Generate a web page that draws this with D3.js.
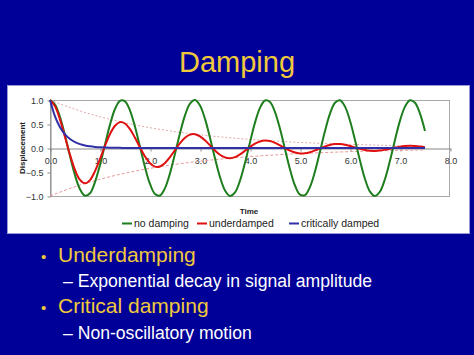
<!DOCTYPE html>
<html>
<head>
<meta charset="utf-8">
<script src="https://cdn.jsdelivr.net/npm/d3@7"></script>
<style>
html,body{margin:0;padding:0;background:#000099;}
svg{display:block;font-family:"Liberation Sans",Arial,sans-serif;}
</style>
</head>
<body>
<svg id="c" width="474" height="355"></svg>
<script>
// time axis samples (s)
const times = d3.range(0, 76).map(i => +(i / 10).toFixed(1));
const noDamping = [1.000,0.907,0.645,0.262,-0.168,-0.567,-0.860,-0.995,-0.942,-0.709,-0.353,0.072,0.487,0.812,0.983,0.971,0.780,0.443,0.024,-0.400,-0.749,-0.958,-0.989,-0.836,-0.528,-0.120,0.309,0.681,0.926,0.999,0.885,0.607,0.215,-0.216,-0.607,-0.885,-0.999,-0.926,-0.681,-0.308,0.121,0.529,0.837,0.990,0.958,0.748,0.400,-0.024,-0.444,-0.781,-0.971,-0.981,-0.809,-0.487,-0.072,0.354,0.716,0.943,0.995,0.862,0.569,0.168,-0.263,-0.646,-0.908,-1.000,-0.907,-0.645,-0.262,0.169,0.570,0.862,0.995,0.943,0.715,0.353];
const underdamped = [1.000,0.869,0.592,0.230,-0.141,-0.458,-0.665,-0.736,-0.668,-0.481,-0.230,0.045,0.291,0.464,0.539,0.510,0.392,0.214,0.011,-0.177,-0.317,-0.388,-0.384,-0.311,-0.188,-0.041,0.101,0.213,0.278,0.287,0.243,0.160,0.054,-0.052,-0.141,-0.196,-0.213,-0.189,-0.133,-0.058,0.022,0.091,0.137,0.155,0.145,0.108,0.055,-0.003,-0.056,-0.095,-0.113,-0.110,-0.087,-0.050,-0.007,0.033,0.064,0.081,0.083,0.068,0.043,0.012,-0.018,-0.043,-0.058,-0.061,-0.054,-0.036,-0.014,0.009,0.028,0.041,0.045,0.041,0.029,0.014];
const criticallyDamped = [1.000,0.657,0.432,0.284,0.186,0.122,0.080,0.053,0.035,0.023,0.015,0.010,0.006,0.004,0.003,0.002,0.001,0,0,0,0,0,0,0,0,0,0,0,0,0,0,0,0,0,0,0,0,0,0,0,0,0,0,0,0,0,0,0,0,0,0,0,0,0,0,0,0,0,0,0,0,0,0,0,0,0,0,0,0,0,0,0,0,0,0,0];
// decay envelope
const envTimes = [0,0.5,1,1.5,2,2.5,3,3.5,4,4.5,5,5.5,6,6.5,7,7.5];
const envUpper = [1.0,0.807,0.651,0.525,0.423,0.341,0.275,0.222,0.179,0.144,0.116,0.094,0.076,0.061,0.049,0.040];
const envLower = [-1.0,-0.807,-0.651,-0.525,-0.423,-0.341,-0.275,-0.222,-0.179,-0.144,-0.116,-0.094,-0.076,-0.061,-0.049,-0.040];
const xTicks = [0,1,2,3,4,5,6,7,8];
const yTicks = [-1,-0.5,0,0.5,1];
const seriesNames = ["no damping","underdamped","critically damped"];
const seriesColors = ["#1e7e1e","#e01010","#3030a8"];
const title = "Damping";
const bullets = [
  {level:1, text:"Underdamping"},
  {level:2, text:"– Exponential decay in signal amplitude"},
  {level:1, text:"Critical damping"},
  {level:2, text:"– Non-oscillatory motion"}
];

const svg = d3.select("#c");
svg.append("rect").attr("width",474).attr("height",355).attr("fill","#000099");

svg.append("text").attr("x",237).attr("y",72).attr("text-anchor","middle")
  .attr("font-size",29).attr("fill","#f0c83c").text(title);

// chart panel
svg.append("rect").attr("x",7.5).attr("y",85.5).attr("width",462).attr("height",148)
  .attr("fill","#ffffff").attr("stroke","#9a9ad8").attr("stroke-width",1);

const x = d3.scaleLinear().domain([0,8]).range([50,450]);
const y = d3.scaleLinear().domain([-1,1]).range([196,100]);

// plot border
svg.append("rect").attr("x",50.5).attr("y",100.5).attr("width",399).attr("height",96)
  .attr("fill","none").attr("stroke","#a8a8a8").attr("stroke-width",1);

const yAxis = svg.append("g").attr("transform","translate(50.5,0.5)")
  .call(d3.axisLeft(y).tickValues(yTicks).tickFormat(d3.format(".1f")).tickSize(3).tickPadding(4).tickSizeOuter(0));
yAxis.selectAll("text").attr("font-size",9).attr("fill","#333").attr("font-family","Liberation Sans, Arial, sans-serif");
yAxis.selectAll("line,path").attr("stroke","#888");

const xAxis = svg.append("g").attr("transform",`translate(0.5,${y(0)+0.5})`)
  .call(d3.axisBottom(x).tickValues(xTicks).tickFormat(d3.format(".1f")).tickSize(3).tickPadding(6).tickSizeOuter(0));
xAxis.selectAll("text").attr("font-size",9).attr("fill","#333").attr("font-family","Liberation Sans, Arial, sans-serif");
xAxis.selectAll("line,path").attr("stroke","#888");

svg.append("text").attr("transform","translate(25,148) rotate(-90)").attr("text-anchor","middle")
  .attr("font-size",8).attr("font-weight","bold").attr("fill","#222").text("Displacement");
svg.append("text").attr("x",249).attr("y",214).attr("text-anchor","middle")
  .attr("font-size",8).attr("font-weight","bold").attr("fill","#222").text("Time");

// envelopes
const envLine = d3.line().x((d,i)=>x(envTimes[i])).y(d=>y(d)).curve(d3.curveMonotoneX);
svg.append("path").datum(envUpper).attr("d",envLine).attr("fill","none")
  .attr("stroke","#e0a8a8").attr("stroke-width",1).attr("stroke-dasharray","2,2");
svg.append("path").datum(envLower).attr("d",envLine).attr("fill","none")
  .attr("stroke","#e89a9a").attr("stroke-width",1).attr("stroke-dasharray","3,2");

const line = d3.line().x((d,i)=>x(times[i])).y(d=>y(d)).curve(d3.curveCatmullRom.alpha(0.5));
const lineMono = d3.line().x((d,i)=>x(times[i])).y(d=>y(d)).curve(d3.curveMonotoneX);
const data = [noDamping, underdamped, criticallyDamped];
data.forEach((s,k)=>{
  svg.append("path").datum(s).attr("d", k===2 ? lineMono : line).attr("fill","none")
    .attr("stroke",seriesColors[k]).attr("stroke-width",2).attr("stroke-linejoin","round");
});

// legend
const legX = [122, 197, 289];
const lg = svg.append("g");
seriesNames.forEach((n,k)=>{
  lg.append("line").attr("x1",legX[k]).attr("x2",legX[k]+10).attr("y1",223.5).attr("y2",223.5)
    .attr("stroke",seriesColors[k]).attr("stroke-width",2);
  lg.append("text").attr("x",legX[k]+12).attr("y",227).attr("font-size",10.5).attr("fill","#222").text(n);
});

// bullets
const bY = [262, 286.5, 312.5, 338.5];
bullets.forEach((b,i)=>{
  if(b.level===1){
    svg.append("text").attr("x",41).attr("y",bY[i]).attr("font-size",15).attr("fill","#f0c83c").text("•");
    svg.append("text").attr("x",58).attr("y",bY[i]).attr("font-size",21).attr("fill","#f0c83c").text(b.text);
  } else {
    svg.append("text").attr("x",63).attr("y",bY[i]).attr("font-size",17.6).attr("fill","#ffffff").text(b.text);
  }
});
</script>
</body>
</html>
